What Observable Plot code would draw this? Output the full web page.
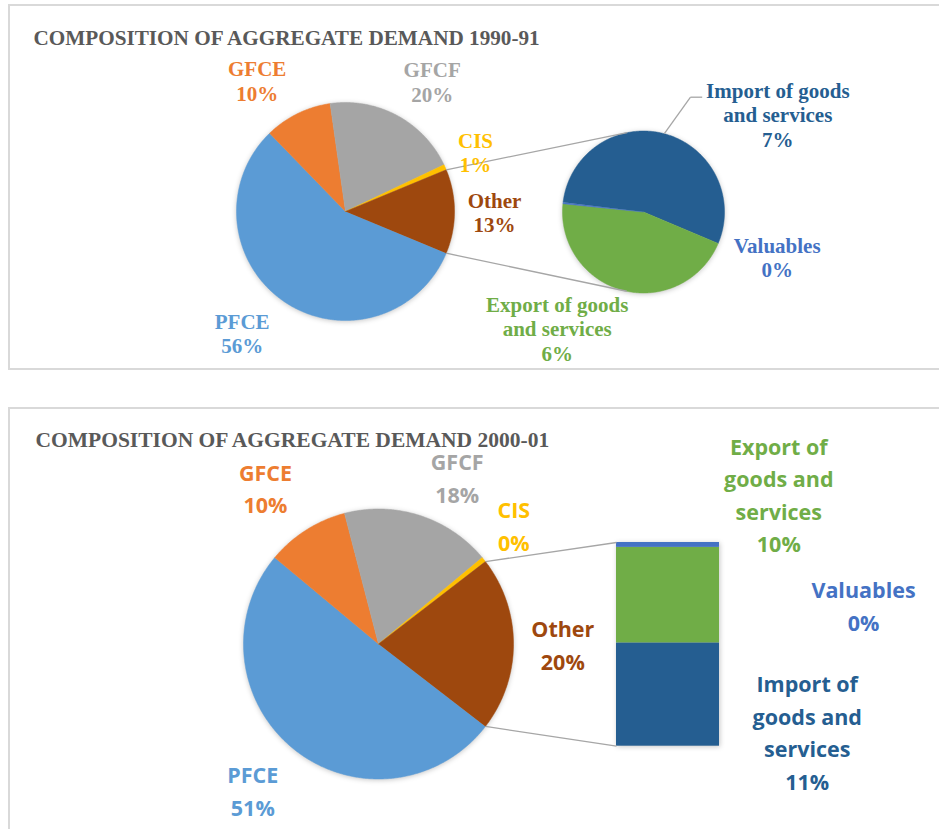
<!DOCTYPE html>
<html>
<head>
<meta charset="utf-8">
<script src="https://cdn.jsdelivr.net/npm/d3@7"></script>
<script src="https://cdn.jsdelivr.net/npm/@observablehq/plot@0.6"></script>
<style>
  html, body { margin: 0; padding: 0; background: #fff; }
  #page { position: relative; width: 939px; height: 829px; overflow: hidden; }
  .panel { position: absolute; box-sizing: border-box; border: 2px solid #d9d9d9; }
  .chart { position: absolute; left: 0; }
  .chart svg g[aria-label="line"] { filter: drop-shadow(0px 1.5px 2.5px rgba(0,0,0,0.22)); }
  .chart svg g[aria-label="rect"] { filter: drop-shadow(1px 1.5px 2.5px rgba(0,0,0,0.22)); }
</style>
</head>
<body>
<div id="page">
  <div class="panel" style="left:8px;top:4px;width:1000px;height:366px"></div>
  <div class="panel" style="left:8px;top:407px;width:1000px;height:500px"></div>
  <div class="chart" id="c1" style="top:0px"></div>
  <div class="chart" id="c2" style="top:390px"></div>
</div>
<script>
// ---------------- DATA ----------------
const titles = ["COMPOSITION OF AGGREGATE DEMAND 1990-91", "COMPOSITION OF AGGREGATE DEMAND 2000-01"];
const primaryCategories = ["PFCE", "GFCE", "GFCF", "CIS"];
const otherCategory = "Other";
const secondaryKeys = ["Import", "Export", "Valuables"];
const secondaryCategories = ["Import of goods and services", "Export of goods and services", "Valuables"];

// values (% of aggregate demand)
const primary1990 = [56.5, 10.0, 20.2, 0.8];
const secondary1990 = [6.8, 5.66, 0.04];
const primary2000 = [50.6, 9.9, 18.0, 0.6];
const secondary2000 = [10.6, 9.8, 0.5];

// percentage labels as printed
const pct1990Primary = ["56%", "10%", "20%", "1%"];
const pct1990Other = "13%";
const pct1990Secondary = ["7%", "6%", "0%"];
const pct2000Primary = ["51%", "10%", "18%", "0%"];
const pct2000Other = "20%";
const pct2000Secondary = ["11%", "10%", "0%"];

// ---------------- STYLE / LAYOUT ----------------
const colorKeys = ["PFCE", "GFCE", "GFCF", "CIS", "Other", "Import", "Export", "Valuables"];
const colorValues = ["#5B9BD5", "#ED7D31", "#A5A5A5", "#FFC000", "#9E480E", "#255E91", "#70AD47", "#4472C4"];
const SERIF = "'Liberation Serif', 'Times New Roman', serif";
const SANS = "'Open Sans', Lato, sans-serif";
const W = 939;

const L1 = {
  top: 0, height: 372, cx: 345, cy: 211, R: 109,
  sec: {cx: 643, cy: 211.5, r: 81, start: -83},
  leader: {elbow: [690, 96.7], end: [701.7, 96.7]},
  wrap: 15, font: SERIF, fontSize: 21, lineSpacing: 24.5,
  title: {x: 33, y: 44.3, size: 21.2},
  labels: {PFCE: [241.7, 352.7], GFCE: [256.7, 100], GFCF: [431.7, 101], CIS: [475, 171.7],
           Other: [494, 231.7], Import: [777.3, 146], Valuables: [776.7, 276.7], Export: [556.7, 360]}
};
const L2 = {
  top: 390, height: 439, cx: 378, cy: 643.5, R: 135,
  bar: {x1: 616, x2: 719, cy: 643.85, h: 203.7},
  wrap: 10, font: SANS, fontSize: 21.5, lineSpacing: 32.4,
  title: {x: 35, y: 446, size: 21.5},
  labels: {PFCE: [252.3, 815], GFCE: [265, 512.7], GFCF: [456.7, 502], CIS: [513.3, 550],
           Other: [562.3, 669], Import: [806.7, 789], Valuables: [863, 630], Export: [778.3, 551.7]}
};

// ---------------- HELPERS ----------------
function wrap(s, n) {
  const words = s.split(" "), lines = [];
  let cur = "";
  for (const w of words) {
    if (cur && (cur + " " + w).length > n) { lines.push(cur); cur = w; }
    else cur = cur ? cur + " " + w : w;
  }
  if (cur) lines.push(cur);
  return lines.join("\n");
}
function arcPoints(arcs, cx, cy, r) {
  const pts = [];
  for (const a of arcs) {
    const n = Math.max(2, Math.ceil((a.endAngle - a.startAngle) / (Math.PI / 360)));
    pts.push({key: a.data.key, x: cx, y: cy});
    for (let i = 0; i <= n; i++) {
      const t = a.startAngle + (a.endAngle - a.startAngle) * i / n;
      pts.push({key: a.data.key, x: cx + r * Math.sin(t), y: cy + r * Math.cos(t)});
    }
  }
  return pts;
}
function tangent(P, C, r, sign) {
  const vx = C[0] - P[0], vy = C[1] - P[1], d = Math.hypot(vx, vy);
  const len = Math.sqrt(d * d - r * r), a = Math.asin(r / d) * sign;
  const ex = vx / d, ey = vy / d;
  const rx = ex * Math.cos(a) - ey * Math.sin(a), ry = ex * Math.sin(a) + ey * Math.cos(a);
  return [P[0] + len * rx, P[1] + len * ry];
}

function panel(L, prim, sec, pctP, pctO, pctS, title) {
  const ux = px => (px - L.cx) / L.R;
  const uy = py => (L.cy - py) / L.R;
  const rows = primaryCategories.map((k, i) => ({key: k, value: prim[i]}));
  const otherValue = d3.sum(sec);
  rows.push({key: otherCategory, value: otherValue});
  const total = d3.sum(rows, d => d.value);
  const s = Math.PI / 2 + Math.PI * otherValue / total;
  const pie = d3.pie().sort(null).value(d => d.value);
  const arcs = pie.startAngle(s).endAngle(s + 2 * Math.PI)(rows);
  const oa = arcs[arcs.length - 1];
  const pUp = [Math.sin(oa.startAngle), Math.cos(oa.startAngle)];
  const pLo = [Math.sin(oa.endAngle), Math.cos(oa.endAngle)];
  const secRows = secondaryKeys.map((k, i) => ({key: k, value: sec[i]}));

  const sliceOpts = {x: "x", y: "y", z: "key", fill: "key", stroke: "key", strokeWidth: 0.5, strokeLinejoin: "round"};
  const marks = [Plot.line(arcPoints(arcs, 0, 0, 1), sliceOpts)];
  const links = [];
  if (L.sec) {
    const C = [ux(L.sec.cx), uy(L.sec.cy)], r = L.sec.r / L.R;
    const a0 = L.sec.start * Math.PI / 180;
    const sarcs = d3.pie().sort(null).value(d => d.value).startAngle(a0).endAngle(a0 + 2 * Math.PI)(secRows);
    marks.push(Plot.line(arcPoints(sarcs, C[0], C[1], r), sliceOpts));
    const tUp = tangent(pUp, C, r, 1), tLo = tangent(pLo, C, r, -1);
    links.push({x1: pUp[0], y1: pUp[1], x2: tUp[0], y2: tUp[1]});
    links.push({x1: pLo[0], y1: pLo[1], x2: tLo[0], y2: tLo[1]});
    const ia = sarcs[0], m = (ia.startAngle + ia.endAngle) / 2;
    const e = [C[0] + r * Math.sin(m), C[1] + r * Math.cos(m)];
    const el = [ux(L.leader.elbow[0]), uy(L.leader.elbow[1])];
    const en = [ux(L.leader.end[0]), uy(L.leader.end[1])];
    links.push({x1: e[0], y1: e[1], x2: el[0], y2: el[1]});
    links.push({x1: el[0], y1: el[1], x2: en[0], y2: en[1]});
  } else {
    const x1 = ux(L.bar.x1), x2 = ux(L.bar.x2), H = L.bar.h / L.R, yc = uy(L.bar.cy);
    const k = H / otherValue;
    let acc = yc - H / 2;
    const bars = secRows.map(d => { const y1 = acc; acc += d.value * k; return {key: d.key, x1, x2, y1, y2: acc}; });
    marks.push(Plot.rect(bars, {x1: "x1", x2: "x2", y1: "y1", y2: "y2", fill: "key"}));
    links.push({x1: pUp[0], y1: pUp[1], x2: x1, y2: yc + H / 2});
    links.push({x1: pLo[0], y1: pLo[1], x2: x1, y2: yc - H / 2});
  }
  marks.push(Plot.link(links, {x1: "x1", y1: "y1", x2: "x2", y2: "y2", stroke: "#a6a6a6", strokeWidth: 1.3}));

  const labelRows = [];
  primaryCategories.forEach((k, i) => labelRows.push({key: k, text: k + "\n" + pctP[i], pos: L.labels[k]}));
  labelRows.push({key: otherCategory, text: otherCategory + "\n" + pctO, pos: L.labels[otherCategory]});
  secondaryKeys.forEach((k, i) => labelRows.push({key: k, text: wrap(secondaryCategories[i], L.wrap) + "\n" + pctS[i], pos: L.labels[k]}));
  marks.push(Plot.text(labelRows, {
    x: d => ux(d.pos[0]), y: d => uy(d.pos[1]), text: "text", fill: "key",
    textAnchor: "middle", lineAnchor: "bottom", lineHeight: L.lineSpacing / L.fontSize,
    fontSize: L.fontSize, fontWeight: "bold", fontFamily: L.font
  }));
  marks.push(Plot.text([title], {
    x: () => ux(L.title.x), y: () => uy(L.title.y), text: d => d,
    textAnchor: "start", lineAnchor: "bottom", fill: "#595959",
    fontSize: L.title.size, fontWeight: "bold", fontFamily: SERIF
  }));

  return Plot.plot({
    width: W, height: L.height, margin: 0,
    x: {domain: [ux(0), ux(W)], axis: null},
    y: {domain: [uy(L.top + L.height), uy(L.top)], axis: null},
    color: {domain: colorKeys, range: colorValues},
    style: {background: "transparent", overflow: "visible"},
    marks
  });
}

document.getElementById("c1").appendChild(panel(L1, primary1990, secondary1990, pct1990Primary, pct1990Other, pct1990Secondary, titles[0]));
document.getElementById("c2").appendChild(panel(L2, primary2000, secondary2000, pct2000Primary, pct2000Other, pct2000Secondary, titles[1]));
</script>
</body>
</html>
